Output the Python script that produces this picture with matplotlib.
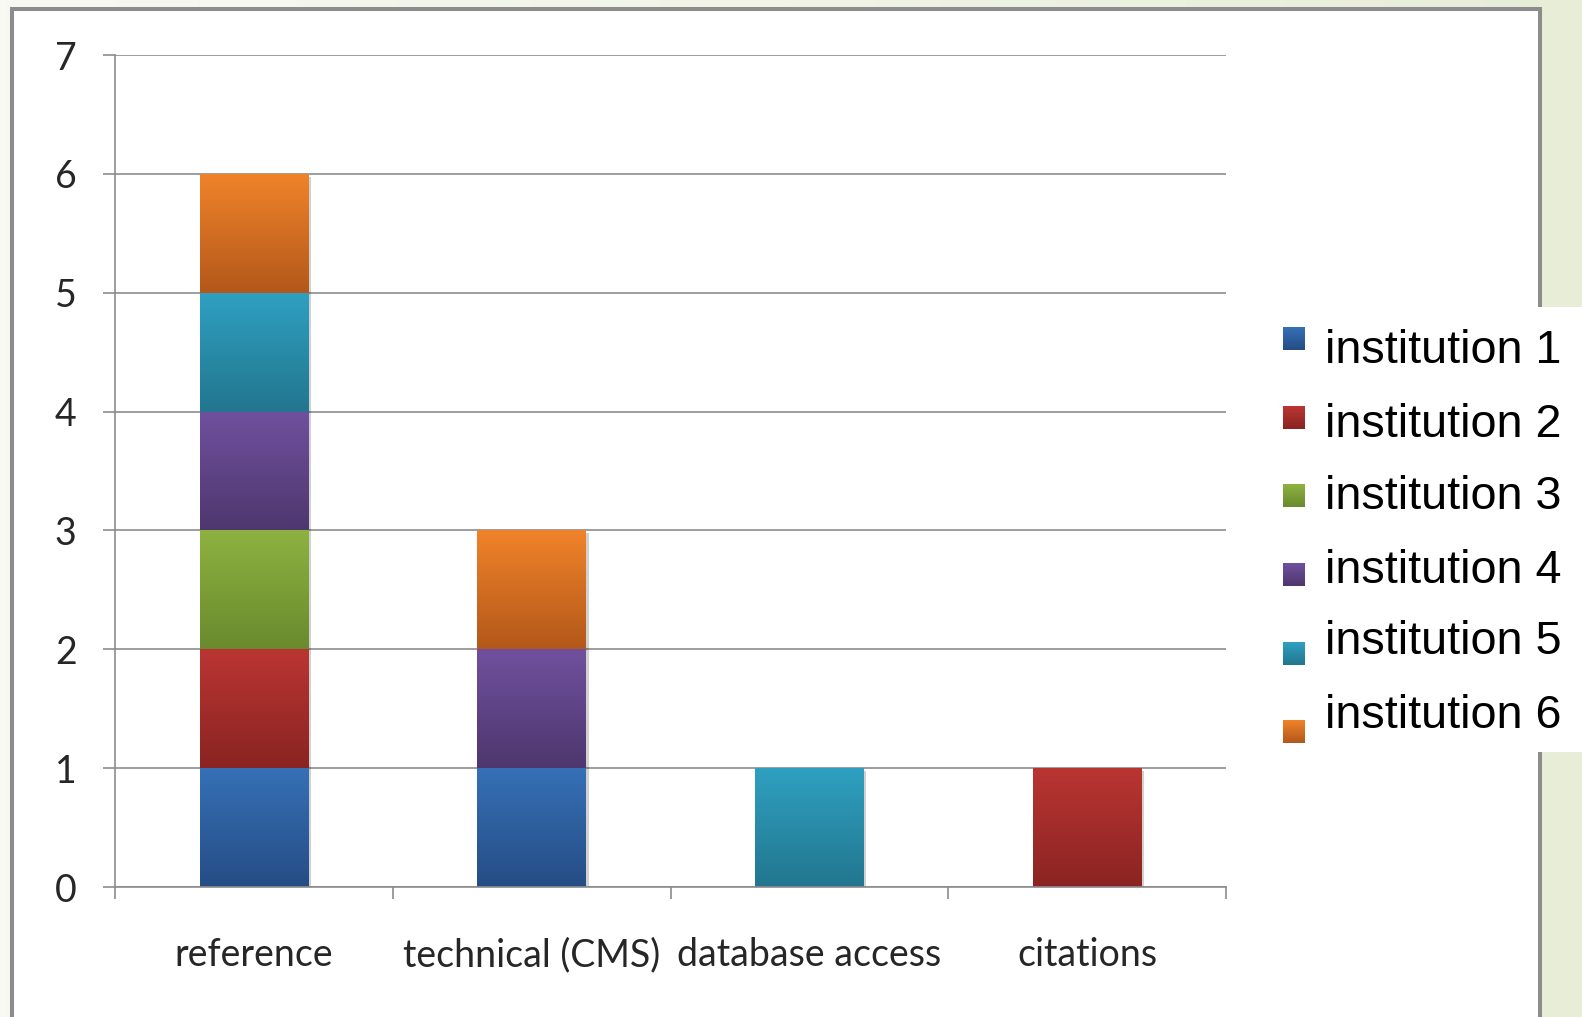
import numpy as np
import matplotlib
matplotlib.use("Agg")
import matplotlib.pyplot as plt
from matplotlib.colors import LinearSegmentedColormap
from matplotlib.patches import Rectangle
import matplotlib.patheffects as pe

# ---- data -------------------------------------------------------------
categories = ["reference", "technical (CMS)", "database access", "citations"]
series_names = ["institution 1", "institution 2", "institution 3",
                "institution 4", "institution 5", "institution 6"]
institution_1 = [1, 1, 0, 0]
institution_2 = [1, 0, 0, 1]
institution_3 = [1, 0, 0, 0]
institution_4 = [1, 1, 0, 0]
institution_5 = [1, 0, 1, 0]
institution_6 = [1, 1, 0, 0]
series_values = [institution_1, institution_2, institution_3,
                 institution_4, institution_5, institution_6]
y_ticks = [0, 1, 2, 3, 4, 5, 6, 7]

# top / bottom colours of each series' vertical gradient
grad_top = ["#3670B6", "#BA3532", "#8DB240", "#70509E", "#2FA0C1", "#F0832A"]
grad_bot = ["#254D85", "#8A2422", "#6A8A2E", "#4E376E", "#22768E", "#B3581A"]

W, H, DPI = 1582, 1017, 100
fig = plt.figure(figsize=(W / DPI, H / DPI), dpi=DPI)

def fx(px):
    return px / W

def fy(py):
    return 1 - py / H

# pale slide background
bg = fig.add_axes([0, 0, 1, 1], zorder=-10)
bg.axis("off")
bg_cmap = LinearSegmentedColormap.from_list("bg", ["#F8F9F3", "#E8EDD8"])
bg.imshow(np.linspace(0, 1, 256)[None, :], cmap=bg_cmap, aspect="auto",
          extent=[0, 1, 0, 1])
bg.set_xlim(0, 1)
bg.set_ylim(0, 1)

# chart frame
frame = Rectangle((fx(11.5), -0.05), fx(1540) - fx(11.5), fy(9.5) + 0.05,
                  transform=bg.transAxes, facecolor="white",
                  edgecolor="#8C8C8C", linewidth=2.9, zorder=1)
bg.add_patch(frame)

# ---- plot area --------------------------------------------------------
ax = fig.add_axes([fx(115), fy(887), fx(1226) - fx(115), fy(55) - fy(887)])
ax.set_facecolor("none")

x = np.arange(len(categories))
bar_width = 0.39
bottom = np.zeros(len(categories))
bars_by_series = []
for vals, c_top, c_bot in zip(series_values, grad_top, grad_bot):
    vals = np.array(vals, dtype=float)
    bars = ax.bar(x, vals, bar_width, bottom=bottom, color=c_bot,
                  linewidth=0, zorder=3)
    for patch in bars:
        patch.set_path_effects([pe.SimplePatchShadow(offset=(2, -2),
                                                     shadow_rgbFace="#000000",
                                                     alpha=0.18),
                                pe.Normal()])
    bars_by_series.append((bars, c_top, c_bot))
    bottom += vals

# vertical gradient fill inside every bar
for bars, c_top, c_bot in bars_by_series:
    cmap = LinearSegmentedColormap.from_list("g", [c_bot, c_top])
    for patch in bars:
        h = patch.get_height()
        if h <= 0:
            continue
        x0, y0, w = patch.get_x(), patch.get_y(), patch.get_width()
        im = ax.imshow(np.linspace(0, 1, 128)[:, None], cmap=cmap,
                       origin="lower", aspect="auto",
                       extent=[x0, x0 + w, y0, y0 + h], zorder=3.5,
                       interpolation="bilinear")
        im.set_clip_path(patch)

ax.set_xlim(-0.5, len(categories) - 0.5)
ax.set_ylim(0, 7)

grid_col = "#8C8C8C"
ax.set_yticks(y_ticks)
ax.yaxis.grid(True, color=grid_col, linewidth=1.2, zorder=1)
ax.set_axisbelow(True)
for s in ["top", "right"]:
    ax.spines[s].set_visible(False)
for s in ["left", "bottom"]:
    ax.spines[s].set_color(grid_col)
    ax.spines[s].set_linewidth(1.2)
    ax.spines[s].set_zorder(4)

tick_font = dict(family=["Lato", "DejaVu Sans"], size=27)
ax.tick_params(axis="y", length=8.6, width=1.2, color=grid_col, pad=19,
               labelcolor="#262626")
ax.set_yticklabels([str(t) for t in y_ticks], fontdict=tick_font)

ax.set_xticks(x)
ax.set_xticklabels(categories, fontdict=tick_font)
ax.tick_params(axis="x", which="major", length=0, pad=36, labelcolor="#262626")
ax.set_xticks(np.arange(len(categories) + 1) - 0.5, minor=True)
ax.tick_params(axis="x", which="minor", length=8.6, width=1.2, color=grid_col)

# ---- legend -----------------------------------------------------------
bg.add_patch(Rectangle((fx(1266), fy(752)), 1 - fx(1266), fy(307) - fy(752),
                       transform=bg.transAxes, facecolor="white",
                       edgecolor="none", zorder=2))
lax = fig.add_axes([0, 0, 1, 1], zorder=5)
lax.axis("off")
lax.set_xlim(0, W)
lax.set_ylim(H, 0)
text_baselines = [363, 437, 509, 583, 654, 728]
marker_tops = [327, 406, 484, 563, 642, 720]
for name, c_top, c_bot, base, mtop in zip(series_names, grad_top, grad_bot,
                                          text_baselines, marker_tops):
    sq = Rectangle((1283, mtop), 22, 23, facecolor=c_bot, edgecolor="none",
                   zorder=1)
    lax.add_patch(sq)
    cmap = LinearSegmentedColormap.from_list("g", [c_top, c_bot])
    im = lax.imshow(np.linspace(0, 1, 32)[:, None], cmap=cmap,
                    aspect="auto", extent=[1283, 1305, mtop + 23, mtop],
                    origin="upper", interpolation="bilinear", zorder=2)
    im.set_clip_path(sq)
    lax.text(1325, base, name, fontsize=33.7, color="black",
             family=["Liberation Sans", "DejaVu Sans"], va="baseline",
             ha="left")
lax.set_xlim(0, W)
lax.set_ylim(H, 0)

fig.savefig("out.png", dpi=DPI)
